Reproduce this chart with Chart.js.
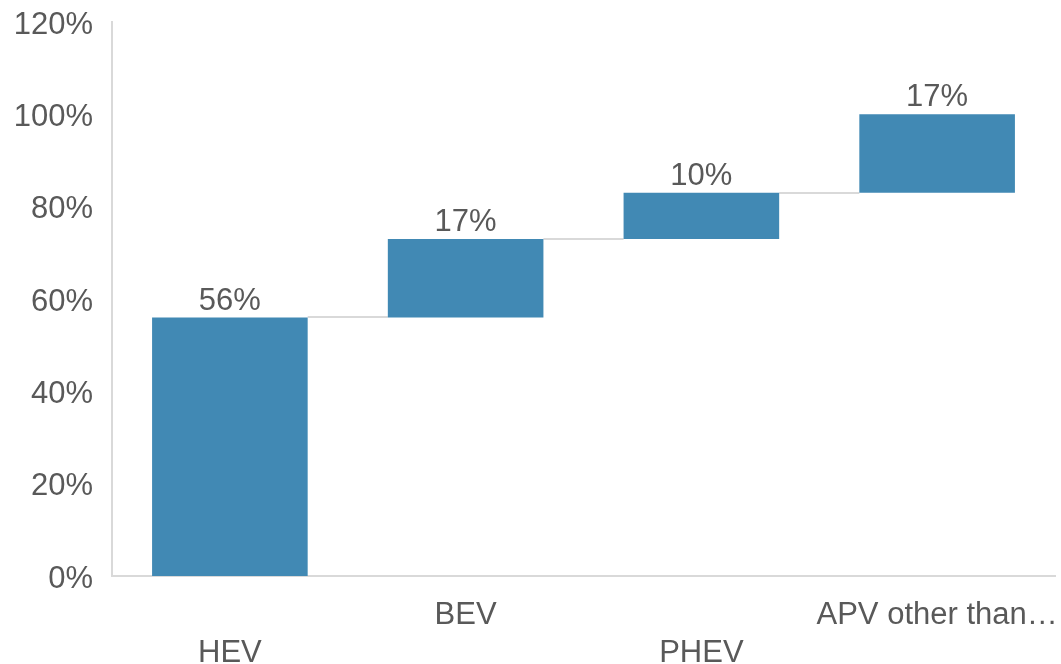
<!DOCTYPE html>
<html>
<head>
<meta charset="utf-8">
<script src="https://cdn.jsdelivr.net/npm/chart.js@4.4.0/dist/chart.umd.min.js"></script>
<style>
  html, body { margin: 0; padding: 0; background: #fff; }
</style>
</head>
<body>
<canvas id="myChart" width="1061" height="664"></canvas>
<script>
// data
const categories = [['', 'HEV'], ['BEV'], ['', 'PHEV'], ['APV other than…']];
const shares = [56, 17, 10, 17];
const yTicks = [0, 20, 40, 60, 80, 100, 120];

const barColor = '#4189B4';
const lineColor = '#D9D9D9';
const textColor = '#595959';
const fontFamily = '"Liberation Sans", Arial, sans-serif';

// floating ranges for the waterfall
let running = 0;
const ranges = shares.map(v => {
  const r = [running, running + v];
  running += v;
  return r;
});

// connector lines + value labels
const waterfallPlugin = {
  id: 'waterfallPlugin',
  beforeDatasetsDraw(chart) {
    const ctx = chart.ctx;
    const meta = chart.getDatasetMeta(0);
    const y = chart.scales.y;
    ctx.save();
    ctx.strokeStyle = lineColor;
    ctx.lineWidth = 2;
    for (let i = 0; i < meta.data.length - 1; i++) {
      const a = meta.data[i];
      const b = meta.data[i + 1];
      const yy = Math.round(y.getPixelForValue(ranges[i][1]));
      ctx.beginPath();
      ctx.moveTo(a.x + a.width / 2, yy);
      ctx.lineTo(b.x - b.width / 2, yy);
      ctx.stroke();
    }
    ctx.restore();
  },
  afterDatasetsDraw(chart) {
    const ctx = chart.ctx;
    const meta = chart.getDatasetMeta(0);
    const y = chart.scales.y;
    ctx.save();
    ctx.font = `31px ${fontFamily}`;
    ctx.fillStyle = textColor;
    ctx.textAlign = 'center';
    ctx.textBaseline = 'bottom';
    meta.data.forEach((bar, i) => {
      const top = y.getPixelForValue(ranges[i][1]);
      ctx.fillText(shares[i] + '%', bar.x, top - 1);
    });
    ctx.restore();
  }
};

const ctx = document.getElementById('myChart').getContext('2d');
new Chart(ctx, {
  type: 'bar',
  data: {
    labels: categories,
    datasets: [{
      data: ranges,
      backgroundColor: barColor,
      borderWidth: 0,
      categoryPercentage: 1,
      barPercentage: 0.66
    }]
  },
  options: {
    responsive: false,
    animation: false,
    layout: {
      padding: { left: 0, right: 6, top: 22, bottom: 0 }
    },
    scales: {
      x: {
        grid: { display: false, drawTicks: false },
        border: { display: true, color: lineColor, width: 2 },
        afterFit: axis => {
          axis.height = 88;
          axis.paddingLeft = 0;
          axis.paddingRight = 0;
        },
        ticks: {
          autoSkip: false,
          maxRotation: 0,
          padding: 20,
          color: textColor,
          font: { family: fontFamily, size: 31, lineHeight: 1.226 }
        }
      },
      y: {
        min: 0,
        max: 120,
        afterBuildTicks: axis => {
          axis.ticks = yTicks.map(v => ({ value: v }));
        },
        afterFit: axis => {
          axis.width = 112;
          axis.paddingTop = 0;
          axis.paddingBottom = 0;
        },
        grid: { display: false, drawTicks: false },
        border: { display: true, color: lineColor, width: 2 },
        ticks: {
          padding: 19,
          labelOffset: 3,
          color: textColor,
          font: { family: fontFamily, size: 31 },
          callback: v => v + '%'
        }
      }
    },
    plugins: {
      legend: { display: false },
      tooltip: { enabled: false }
    }
  },
  plugins: [waterfallPlugin]
});
</script>
</body>
</html>
